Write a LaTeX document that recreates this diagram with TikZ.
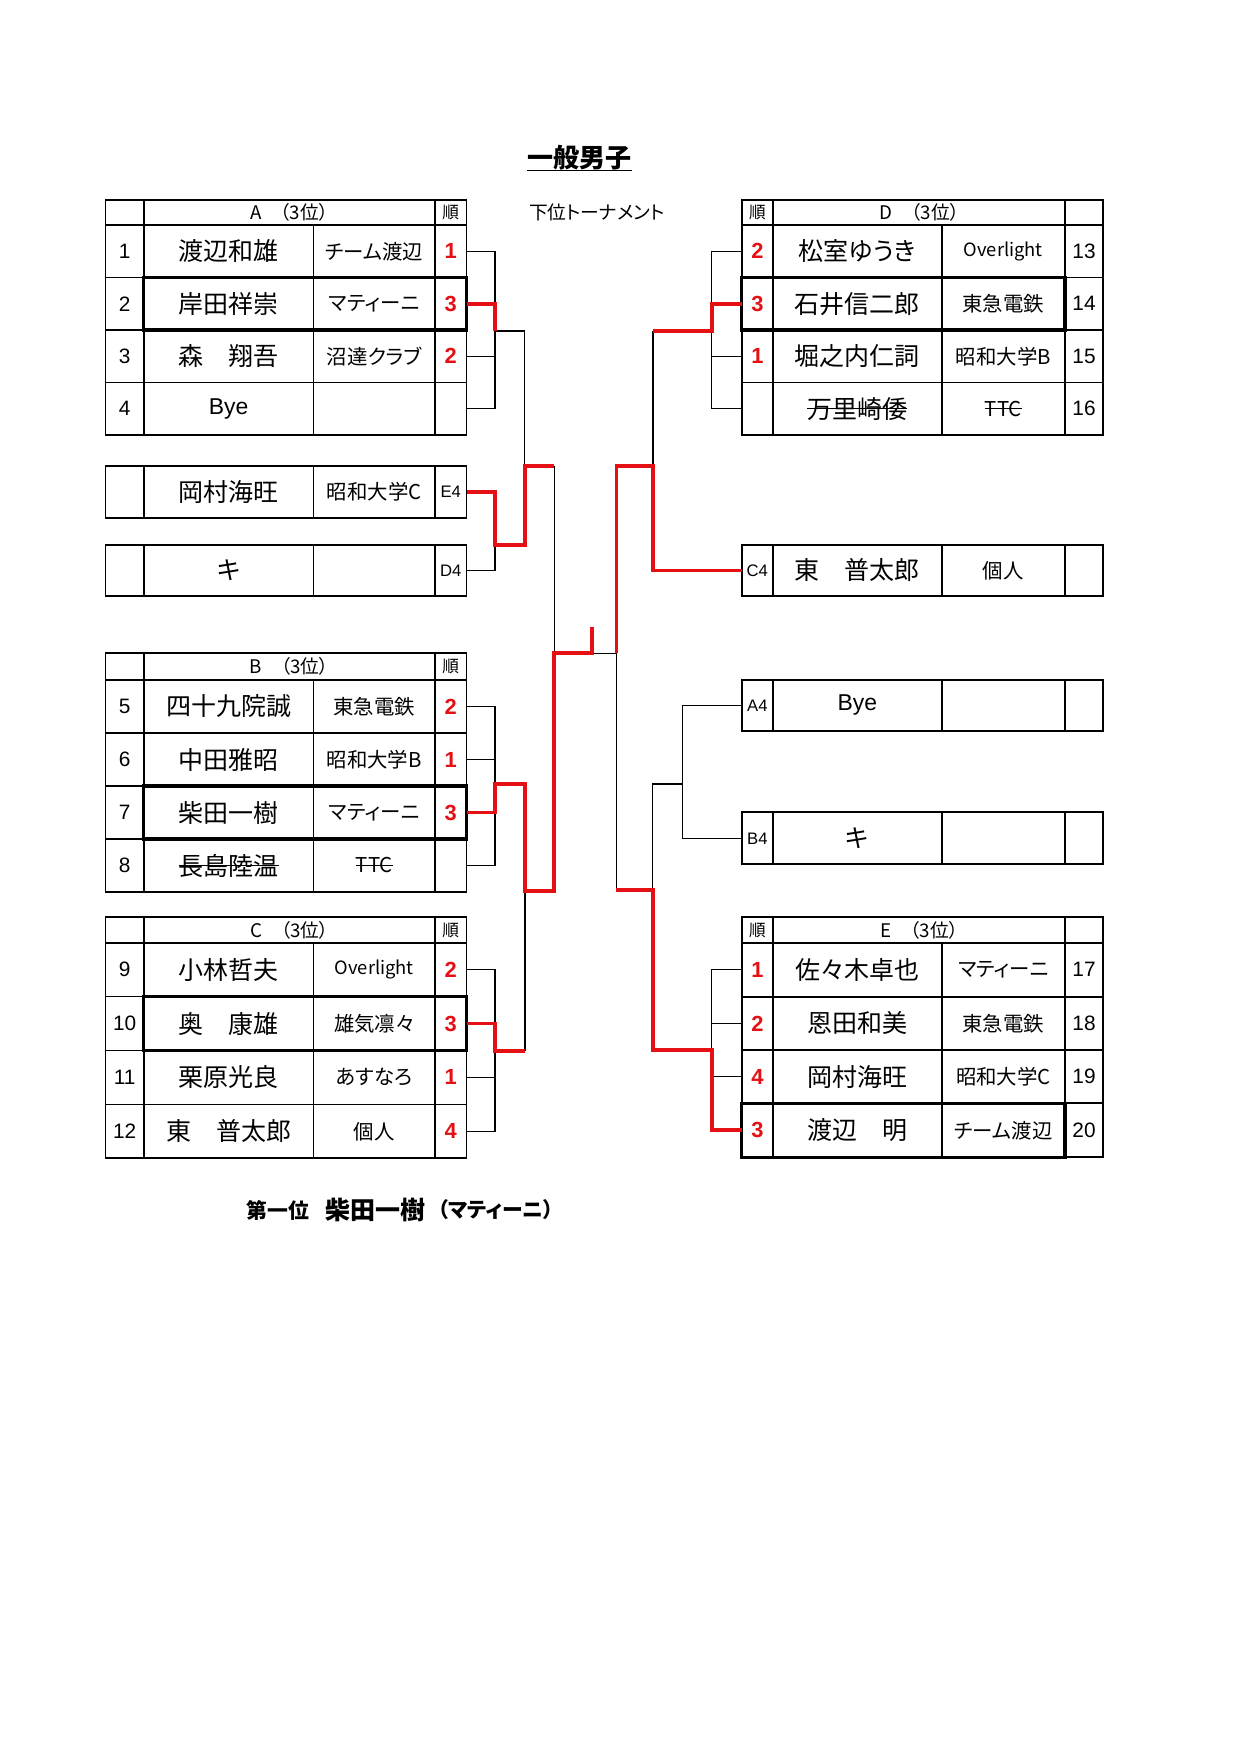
\documentclass[tikz,border=0pt]{standalone}
\usepackage{fontspec}
\setmainfont{Noto Sans CJK JP}[RawFeature=+palt]
\newfontfamily\lat{Liberation Sans}
\definecolor{brred}{RGB}{228,16,20}
\tikzset{
  tabline/.style={line width=0.8pt, line cap=rect},
  thickbox/.style={line width=1.7pt},
  br/.style={line width=0.65pt},
  win/.style={line width=1.8pt, draw=brred},
  txt/.style={inner sep=0pt, outer sep=0pt},
  numtxt/.style={txt, font=\lat\fontsize{10}{12}\selectfont},
  nametxt/.style={txt, font=\fontsize{12}{14}\selectfont},
  teamtxt/.style={txt, font=\fontsize{9.8}{12}\selectfont},
  ranktxt/.style={txt, font=\lat\bfseries\fontsize{10.5}{12}\selectfont, text=brred},
  headtxt/.style={txt, font=\fontsize{9}{10}\selectfont},
  juntxt/.style={txt, font=\fontsize{8}{9}\selectfont},
  tagtxt/.style={txt, font=\lat\fontsize{8}{9}\selectfont},
  strike/.style={line width=0.6pt},
}
\newcommand\ovl{{\fontsize{8.8}{10}\selectfont Overlight}}
\newcommand\myltab[6]{%
  \draw[tabline] (105.5,#1) rectangle (466.5,#6);
  \draw[tabline] (105.5,#2) -- (466.5,#2) (105.5,#3) -- (466.5,#3) (105.5,#4) -- (466.5,#4) (105.5,#5) -- (466.5,#5);
  \draw[tabline] (143.7,#1) -- (143.7,#6) (435,#1) -- (435,#6) (313.5,#2) -- (313.5,#6);}
\newcommand\myrtab[6]{%
  \draw[tabline] (741.7,#1) rectangle (1103,#6);
  \draw[tabline] (741.7,#2) -- (1103,#2) (741.7,#3) -- (1103,#3) (741.7,#4) -- (1103,#4) (741.7,#5) -- (1103,#5);
  \draw[tabline] (773,#1) -- (773,#6) (1065,#1) -- (1065,#6) (941.7,#2) -- (941.7,#6);}
\newcommand\mylbox[2]{%
  \draw[tabline] (105.5,#1) rectangle (466.5,#2);
  \draw[tabline] (143.7,#1) -- (143.7,#2) (313.5,#1) -- (313.5,#2) (435,#1) -- (435,#2);}
\newcommand\myrbox[2]{%
  \draw[tabline] (741.7,#1) rectangle (1103,#2);
  \draw[tabline] (773,#1) -- (773,#2) (941.7,#1) -- (941.7,#2) (1065,#1) -- (1065,#2);}
\newcommand\mylrow[7]{%
  \node[numtxt] (#1n) at (124.6,{(#2+#3)/2}) {#4};
  \node[nametxt] (#1m) at (228.6,{(#2+#3)/2}) {#5};
  \node[teamtxt] (#1t) at (374.25,{(#2+#3)/2}) {#6};
  \node[ranktxt] (#1r) at (450.75,{(#2+#3)/2}) {#7};
  \coordinate (#1e) at (466.5,{(#2+#3)/2});}
\newcommand\myrrow[7]{%
  \node[ranktxt] (#1r) at (757.35,{(#2+#3)/2}) {#4};
  \node[nametxt] (#1m) at (857.35,{(#2+#3)/2}) {#5};
  \node[teamtxt] (#1t) at (1003.35,{(#2+#3)/2}) {#6};
  \node[numtxt] (#1n) at (1084,{(#2+#3)/2}) {#7};
  \coordinate (#1e) at (741.7,{(#2+#3)/2});}
\begin{document}
\begin{tikzpicture}[x=0.48pt, y=-0.48pt]
\useasboundingbox (0,0) rectangle (1240,1754);
\fill[white] (0,0) rectangle (1240,1754);

% titles
\node[txt, font=\bfseries\fontsize{12.5}{14}\selectfont] (title) at (579.5,158) {一般男子};
\coordinate (ul) at (0,170.7);
\draw[line width=0.65pt] (title.west |- ul) -- (title.east |- ul);
\node[txt, anchor=west, font=\fontsize{9}{10}\selectfont] (sub) at (529,212) {下位トーナメント};

% ---------- tables ----------
\myltab{200}{225}{277.5}{330}{382.5}{435}
\myltab{653.3}{680}{733}{786}{839}{892}
\myltab{917.3}{942.7}{996.6}{1050.5}{1104.4}{1158.3}
\myrtab{200}{225}{277.5}{330}{382.5}{435}
\myrtab{917.3}{942.7}{996.7}{1050}{1103.3}{1157.3}
\mylbox{466}{517.7}
\mylbox{545.3}{595.7}
\myrbox{545.3}{595.7}
\myrbox{680}{730.7}
\myrbox{812.3}{864.3}

% thick boxes (3rd place rows)
\draw[thickbox] (143.7,277.5) rectangle (466.5,330);
\draw[thickbox] (143.7,786) rectangle (466.5,839);
\draw[thickbox] (143.7,996.6) rectangle (466.5,1050.5);
\draw[thickbox] (741.7,277.5) rectangle (1065,330);
\draw[thickbox] (741.7,1103.3) rectangle (1065,1157.3);

% headers
\node[headtxt] (ha) at (289.35,212.5) {A\hspace{1em}（3位）};
\node[juntxt] (ja1) at (450.75,212.5) {順};
\node[headtxt] (hb) at (289.35,666.7) {B\hspace{1em}（3位）};
\node[juntxt] (jb1) at (450.75,666.7) {順};
\node[headtxt] (hc) at (289.35,930) {C\hspace{1em}（3位）};
\node[juntxt] (jc1) at (450.75,930) {順};
\node[headtxt] (hd) at (919.35,212.5) {D\hspace{1em}（3位）};
\node[juntxt] (jd1) at (757.35,212.5) {順};
\node[headtxt] (he) at (919.35,930) {E\hspace{1em}（3位）};
\node[juntxt] (je1) at (757.35,930) {順};

% rows A
\mylrow{a1}{225}{277.5}{1}{渡辺和雄}{チーム渡辺}{1}
\mylrow{a2}{277.5}{330}{2}{岸田祥崇}{マティーニ}{3}
\mylrow{a3}{330}{382.5}{3}{森　翔吾}{沼達クラブ}{2}
\mylrow{a4}{382.5}{435}{4}{{\lat\fontsize{11}{12}\selectfont Bye}}{}{}
% rows B
\mylrow{b1}{680}{733}{5}{四十九院誠}{東急電鉄}{2}
\mylrow{b2}{733}{786}{6}{中田雅昭}{昭和大学B}{1}
\mylrow{b3}{786}{839}{7}{柴田一樹}{マティーニ}{3}
\mylrow{b4}{839}{892}{8}{長島陸温}{TTC}{}
% rows C
\mylrow{c1}{942.7}{996.6}{9}{小林哲夫}{\ovl}{2}
\mylrow{c2}{996.6}{1050.5}{10}{奥　康雄}{雄気凛々}{3}
\mylrow{c3}{1050.5}{1104.4}{11}{栗原光良}{あすなろ}{1}
\mylrow{c4}{1104.4}{1158.3}{12}{東　普太郎}{個人}{4}
% rows D
\myrrow{d1}{225}{277.5}{2}{松室ゆうき}{\ovl}{13}
\myrrow{d2}{277.5}{330}{3}{石井信二郎}{東急電鉄}{14}
\myrrow{d3}{330}{382.5}{1}{堀之内仁詞}{昭和大学B}{15}
\myrrow{d4}{382.5}{435}{}{万里崎倭}{TTC}{16}
% rows E
\myrrow{e1}{942.7}{996.7}{1}{佐々木卓也}{マティーニ}{17}
\myrrow{e2}{996.7}{1050}{2}{恩田和美}{東急電鉄}{18}
\myrrow{e3}{1050}{1103.3}{4}{岡村海旺}{昭和大学C}{19}
\myrrow{e4}{1103.3}{1157.3}{3}{渡辺　明}{チーム渡辺}{20}

% strike-throughs
\draw[strike] (b4m.west) -- (b4m.east);
\draw[strike] (b4t.west) -- (b4t.east);
\draw[strike] (d4m.west) -- (d4m.east);
\draw[strike] (d4t.west) -- (d4t.east);

% single boxes
\node[nametxt] (xE4m) at (228.6,491.85) {岡村海旺};
\node[teamtxt] (xE4t) at (374.25,491.85) {昭和大学C};
\node[tagtxt] (xE4g) at (450.75,491.85) {E4};
\coordinate (xE4e) at (466.5,491.85);
\node[nametxt] (xD4m) at (228.6,570.5) {キ};
\node[tagtxt] (xD4g) at (450.75,570.5) {D4};
\coordinate (xD4e) at (466.5,570.5);
\node[tagtxt] (xC4g) at (757.35,570.5) {C4};
\node[nametxt] (xC4m) at (857.35,570.5) {東　普太郎};
\node[teamtxt] (xC4t) at (1003.35,570.5) {個人};
\coordinate (xC4e) at (741.7,570.5);
\node[tagtxt] (xA4g) at (757.35,705.35) {A4};
\node[nametxt] (xA4m) at (857.35,705.35) {{\lat\fontsize{11}{12}\selectfont Bye}};
\coordinate (xA4e) at (741.7,705.35);
\node[tagtxt] (xB4g) at (757.35,838.3) {B4};
\node[nametxt] (xB4m) at (857.35,838.3) {キ};
\coordinate (xB4e) at (741.7,838.3);

% bottom result
\node[txt, anchor=west, font=\bfseries\fontsize{10}{12}\selectfont] (res1) at (246.7,1210) {第一位};
\node[txt, anchor=west, font=\bfseries\fontsize{12}{14}\selectfont] (res2) at (325,1210) {柴田一樹};
\node[txt, anchor=west, font=\bfseries\fontsize{10}{12}\selectfont] (res3) at (438,1210) {（マティーニ）};

% ---------- bracket junction coordinates ----------
\coordinate (aj) at (495,331);
\coordinate (aj2) at (524.7,331);
\coordinate (edj) at (495,545);
\coordinate (edj2) at (524.7,545);
\coordinate (ja) at (524.7,466);
\coordinate (jb) at (554.3,466);
\coordinate (jc) at (554.3,653.3);
\coordinate (bj) at (495,784.3);
\coordinate (bj2) at (525,784.3);
\coordinate (bcj) at (525,890.7);
\coordinate (bcj2) at (554.3,890.7);
\coordinate (cj) at (495,1050.7);
\coordinate (cj2) at (525,1050.7);
\coordinate (fin) at (591.7,653.3);
\coordinate (fintop) at (591.7,626.7);
\coordinate (jd) at (616.4,653.3);
\coordinate (dj) at (711.7,331);
\coordinate (dj2) at (653,331);
\coordinate (je) at (653,466);
\coordinate (jf) at (616.4,466);
\coordinate (abj) at (682.7,784);
\coordinate (abj2) at (652.7,784);
\coordinate (rj) at (652.7,890);
\coordinate (rj2) at (616.4,890);
\coordinate (ej) at (711.7,1050);
\coordinate (ej2) at (652.7,1050);

% ---------- black bracket lines ----------
\draw[br] (a1e) -| (aj);
\draw[br] (a4e) -| (aj);
\draw[br] (a3e) -- ++(28.5,0);
\draw[br] (aj) -- (aj2) -- (ja);
\draw[br] (xD4e) -| (edj);
\draw[br] (jb) -- (jc);
\draw[br] (b1e) -| (bj);
\draw[br] (b4e) -| (bj);
\draw[br] (b2e) -- ++(28.5,0);
\draw[br] (c1e) -| (cj);
\draw[br] (c4e) -| (cj);
\draw[br] (c3e) -- ++(28.5,0);
\draw[br] (cj2) -- (bcj);
\draw[br] (fin) -- (jd);
\draw[br] (d1e) -| (dj);
\draw[br] (d4e) -| (dj);
\draw[br] (d3e) -- ++(-30,0);
\draw[br] (dj2) -- (je);
\draw[br] (xA4e) -| (abj);
\draw[br] (xB4e) -| (abj);
\draw[br] (abj) -- (abj2) -- (rj);
\draw[br] (e1e) -| (ej);
\draw[br] (e3e) -| (ej);
\draw[br] (e2e) -- ++(-30,0);
\draw[br] (rj2) -- (jd);

% ---------- red winner lines ----------
\draw[win] (a2e) -| (aj);
\draw[win] (xE4e) -| (edj) -- (edj2) -- (ja) -- (jb);
\draw[win] (b3e) -| (bj) -- (bj2) -- (bcj) -- (bcj2) -- (jc) -- (fin) -- (fintop);
\draw[win] (c2e) -| (cj) -- (cj2);
\draw[win] (d2e) -| (dj) -- (dj2);
\draw[win] (xC4e) -| (je) -- (jf) -- (jd);
\draw[win] (e4e) -| (ej) -- (ej2) -- (rj) -- (rj2);
\end{tikzpicture}
\end{document}
